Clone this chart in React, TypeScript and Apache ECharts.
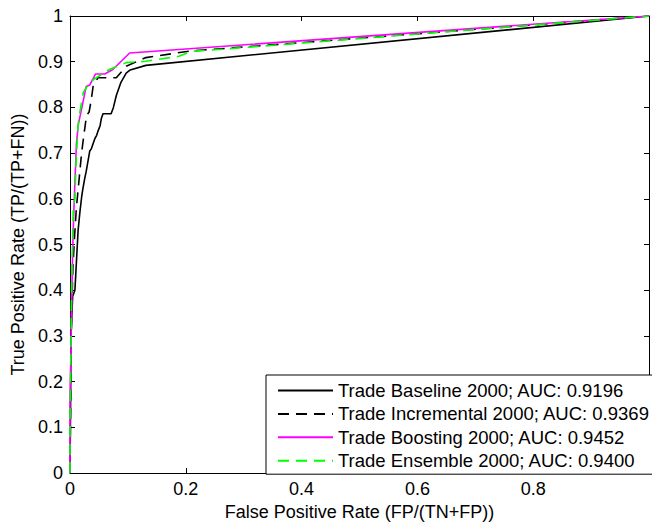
import React, { useEffect, useRef } from "react";
import * as echarts from "echarts";

const seriesNames = [
  "Trade Baseline 2000; AUC: 0.9196",
  "Trade Incremental 2000; AUC: 0.9369",
  "Trade Boosting 2000; AUC: 0.9452",
  "Trade Ensemble 2000; AUC: 0.9400",
];

const baselineFPR = [0, 0.001, 0.0017, 0.0046, 0.0085, 0.011, 0.014, 0.017, 0.02, 0.022, 0.0256, 0.028, 0.034, 0.037, 0.043, 0.046, 0.048, 0.052, 0.054, 0.057, 0.071, 0.075, 0.08, 0.088, 0.097, 0.104, 0.131, 1];
const baselineTPR = [0, 0.15, 0.3, 0.387, 0.4, 0.46, 0.531, 0.57, 0.603, 0.62, 0.646, 0.66, 0.704, 0.71, 0.732, 0.739, 0.747, 0.76, 0.775, 0.786, 0.786, 0.8, 0.826, 0.855, 0.875, 0.882, 0.892, 1];

const incrementalFPR = [0, 0.001, 0.002, 0.005, 0.008, 0.011, 0.014, 0.017, 0.02, 0.024, 0.0285, 0.033, 0.037, 0.04, 0.0456, 0.048, 0.08, 0.097, 0.131, 0.205, 1];
const incrementalTPR = [0, 0.15, 0.3, 0.45, 0.52, 0.58, 0.62, 0.66, 0.7, 0.74, 0.782, 0.79, 0.819, 0.847, 0.858, 0.865, 0.865, 0.89, 0.909, 0.923, 1];

const boostingFPR = [0, 0, 0.002, 0.004, 0.006, 0.008, 0.011, 0.014, 0.02, 0.028, 0.034, 0.044, 0.06, 0.074, 0.103, 1];
const boostingTPR = [0, 0.15, 0.3, 0.45, 0.55, 0.62, 0.718, 0.76, 0.797, 0.846, 0.849, 0.873, 0.873, 0.883, 0.919, 1];

const ensembleFPR = [0, 0, 0.001, 0.003, 0.0057, 0.0085, 0.0103, 0.014, 0.016, 0.023, 0.034, 0.0456, 0.068, 0.097, 0.131, 0.188, 0.211, 0.25, 1];
const ensembleTPR = [0, 0.12, 0.2, 0.42, 0.58, 0.6, 0.675, 0.762, 0.782, 0.833, 0.855, 0.865, 0.883, 0.898, 0.901, 0.912, 0.923, 0.926, 1];

const xTickLabels = ["0", "0.2", "0.4", "0.6", "0.8", ""];
const yTickLabels = ["0", "0.1", "0.2", "0.3", "0.4", "0.5", "0.6", "0.7", "0.8", "0.9", "1"];

const zip = (xs: number[], ys: number[]) => xs.map((x, i) => [x, ys[i]]);

const FONT = "'Liberation Sans', Arial, Helvetica, sans-serif";

export default function App() {
  const ref = useRef<HTMLDivElement>(null);
  useEffect(() => {
    document.body.style.margin = "0";
    const chart = echarts.init(ref.current!, null, { renderer: "svg" });
    const tickStyle = { show: true, inside: true, length: 5, lineStyle: { color: "#000", width: 1 } };
    const lineAxis = { show: true, onZero: false, lineStyle: { color: "#000", width: 1 } };
    const mk = (name: string, data: number[][], color: string, dashed: boolean) => ({
      name,
      type: "line",
      data,
      symbol: "none",
      showSymbol: false,
      lineStyle: { color, width: 1.6, type: dashed ? [11, 7] : "solid" },
      itemStyle: { color },
      z: 3,
    });
    chart.setOption({
      animation: false,
      textStyle: { fontFamily: FONT },
      grid: { left: 70, top: 16, right: -3, bottom: 47, containLabel: false },
      xAxis: [
        {
          type: "value",
          min: 0,
          max: 1,
          interval: 0.2,
          position: "bottom",
          axisLine: lineAxis,
          axisTick: tickStyle,
          splitLine: { show: false },
          axisLabel: {
            color: "#000",
            fontSize: 18,
            fontFamily: FONT,
            margin: 7,
            formatter: (v: number) => xTickLabels[Math.round(v / 0.2)] ?? "",
          },
          name: "False Positive Rate (FP/(TN+FP))",
          nameLocation: "middle",
          nameGap: 29,
          nameTextStyle: { color: "#000", fontSize: 18, fontFamily: FONT },
        },
        {
          type: "value",
          min: 0,
          max: 1,
          interval: 0.2,
          position: "top",
          axisLine: lineAxis,
          axisTick: tickStyle,
          axisLabel: { show: false },
          splitLine: { show: false },
        },
      ],
      yAxis: [
        {
          type: "value",
          min: 0,
          max: 1,
          interval: 0.1,
          position: "left",
          axisLine: lineAxis,
          axisTick: tickStyle,
          splitLine: { show: false },
          axisLabel: {
            color: "#000",
            fontSize: 18,
            fontFamily: FONT,
            margin: 7,
            formatter: (v: number) => yTickLabels[Math.round(v / 0.1)] ?? "",
          },
          name: "True Positive Rate (TP/(TP+FN))",
          nameLocation: "middle",
          nameGap: 40,
          nameTextStyle: { color: "#000", fontSize: 18, fontFamily: FONT },
        },
        {
          type: "value",
          min: 0,
          max: 1,
          interval: 0.1,
          position: "right",
          axisLine: lineAxis,
          axisTick: tickStyle,
          axisLabel: { show: false },
          splitLine: { show: false },
        },
      ],
      legend: {
        data: seriesNames,
        orient: "vertical",
        left: 266,
        top: 375,
        padding: [6, 6, 4, 11],
        itemGap: 4.4,
        itemWidth: 55,
        itemHeight: 14,
        borderColor: "#000",
        borderWidth: 1,
        borderRadius: 0,
        backgroundColor: "#fff",
        itemStyle: { opacity: 0 },
        textStyle: { color: "#000", fontSize: 18.5, lineHeight: 18, fontFamily: FONT },
        z: 10,
      },
      series: [
        mk(seriesNames[0], zip(baselineFPR, baselineTPR), "#000000", false),
        mk(seriesNames[1], zip(incrementalFPR, incrementalTPR), "#000000", true),
        mk(seriesNames[2], zip(boostingFPR, boostingTPR), "#ff00ff", false),
        mk(seriesNames[3], zip(ensembleFPR, ensembleTPR), "#00ff00", true),
      ],
    });
    return () => chart.dispose();
  }, []);
  return <div ref={ref} style={{ width: 652, height: 526 }} />;
}
